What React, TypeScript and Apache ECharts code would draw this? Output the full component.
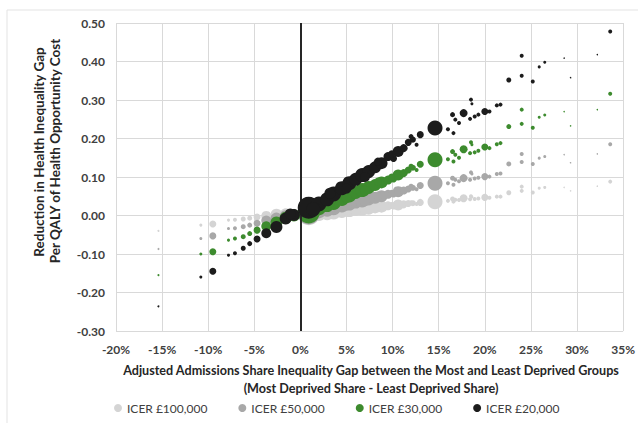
import React, { useEffect, useRef } from "react";
import * as echarts from "echarts";

// Shared share-gap (x, %) and bubble size for each intervention
const shareGap = [
  -15.4, -10.8, -9.5, -7.8, -7.1, -6.2, -5.5, -4.7, -3.7, -2.6, -1.6, -0.7,
  0.9, 2.0, 2.9, 3.6, 4.5, 5.3, 6.0, 6.7, 7.4, 8.1, 8.8, 9.5, 10.1, 10.6,
  11.2, 11.7, 12.2, 13.0, 12.6, 14.6, 16.0, 16.5, 16.6, 16.8, 17.2, 17.7,
  18.4, 18.5, 18.6, 18.9, 19.3, 20.0, 20.5, 21.3, 21.7, 22.6, 24.0, 24.0,
  25.2, 25.9, 26.5, 33.6, 28.6, 29.3, 32.2,
  3.2, 5.0, 7.0, 8.4, 9.9, 12.0, 1.4, -1.1,
];
const bubbleSize = [
  2, 3, 7, 3, 4, 5, 5, 7, 10, 12, 12, 12,
  22, 15, 14, 15, 14, 14, 13, 14, 13, 12, 12, 9, 7, 11,
  8, 7, 6, 7, 4, 15, 4, 5, 4, 4, 4, 8,
  4, 4, 3, 4, 4, 7, 4, 4, 4, 5, 4, 4,
  4, 3, 3, 4, 1.5, 1.5, 1.5,
  11, 10, 10, 8, 7, 5, 14, 11,
];
const icer20k = [
  -0.236, -0.16, -0.145, -0.103, -0.098, -0.085, -0.073, -0.061, -0.046, -0.03, -0.008, 0.001,
  0.02, 0.03, 0.042, 0.056, 0.071, 0.084, 0.094, 0.105, 0.114, 0.125, 0.136, 0.153, 0.148, 0.166,
  0.175, 0.19, 0.197, 0.21, 0.184, 0.227, 0.224, 0.262, 0.214, 0.249, 0.24, 0.266,
  0.251, 0.301, 0.29, 0.257, 0.262, 0.27, 0.27, 0.286, 0.288, 0.352, 0.363, 0.415,
  0.348, 0.386, 0.398, 0.478, 0.409, 0.358, 0.418,
  0.058, 0.07, 0.1, 0.14, 0.16, 0.205, 0.016, 0.004,
];
const icer30k = [
  -0.155, -0.1, -0.094, -0.064, -0.06, -0.055, -0.047, -0.038, -0.028, -0.018, -0.006, 0.0,
  0.008, 0.02, 0.027, 0.034, 0.043, 0.052, 0.06, 0.066, 0.073, 0.079, 0.086, 0.092, 0.095, 0.105,
  0.11, 0.118, 0.124, 0.133, 0.118, 0.145, 0.146, 0.166, 0.14, 0.158, 0.15, 0.172,
  0.162, 0.19, 0.184, 0.164, 0.168, 0.178, 0.175, 0.185, 0.188, 0.231, 0.238, 0.275,
  0.228, 0.255, 0.261, 0.316, 0.27, 0.233, 0.275,
  0.036, 0.045, 0.064, 0.088, 0.1, 0.128, 0.01, 0.002,
];
const icer50k = [
  -0.087, -0.06, -0.053, -0.034, -0.033, -0.029, -0.025, -0.02, -0.013, -0.008, -0.002, 0.001,
  0.005, 0.012, 0.015, 0.02, 0.026, 0.031, 0.035, 0.039, 0.043, 0.046, 0.05, 0.055, 0.056, 0.062,
  0.065, 0.069, 0.072, 0.078, 0.068, 0.084, 0.084, 0.097, 0.08, 0.093, 0.089, 0.097,
  0.093, 0.112, 0.108, 0.096, 0.098, 0.101, 0.101, 0.108, 0.109, 0.134, 0.139, 0.16,
  0.134, 0.149, 0.153, 0.185, 0.158, 0.137, 0.16,
  0.021, 0.026, 0.037, 0.052, 0.058, 0.076, 0.006, 0.002,
];
const icer100k = [
  -0.04, -0.025, -0.022, -0.012, -0.011, -0.009, -0.007, -0.004, -0.001, 0.002, 0.003, 0.002,
  0.003, 0.005, 0.006, 0.009, 0.012, 0.014, 0.016, 0.018, 0.019, 0.021, 0.023, 0.025, 0.025, 0.027,
  0.029, 0.031, 0.032, 0.034, 0.03, 0.036, 0.038, 0.043, 0.036, 0.041, 0.04, 0.045,
  0.042, 0.05, 0.048, 0.043, 0.044, 0.047, 0.046, 0.049, 0.049, 0.059, 0.064, 0.075,
  0.06, 0.071, 0.073, 0.088, 0.073, 0.064, 0.076,
  0.009, 0.011, 0.016, 0.023, 0.026, 0.033, 0.004, 0.002,
];

const seriesNames = ["ICER £100,000", "ICER £50,000", "ICER £30,000", "ICER £20,000"];
const seriesValues = [icer100k, icer50k, icer30k, icer20k];
const seriesColors = ["#d4d4d4", "#a8a8a8", "#3d8b2e", "#1c1c1c"];

const xTitle1 = "Adjusted Admissions Share Inequality Gap between the Most and Least Deprived Groups";
const xTitle2 = "(Most Deprived Share - Least Deprived Share)";
const yTitle1 = "Reduction in Health Inequality Gap";
const yTitle2 = "Per QALY of Health Opportunity Cost";

const FONT = "Lato, 'Open Sans', sans-serif";

export default function App() {
  const ref = useRef<HTMLDivElement>(null);
  useEffect(() => {
    if (!ref.current) return;
    const chart = echarts.init(ref.current, undefined, { renderer: "svg" });
    const series: any[] = seriesNames.map((name, si) => ({
      name,
      type: "scatter",
      symbol: "circle",
      symbolSize: (v: number[]) => v[2],
      itemStyle: { color: seriesColors[si], opacity: 1 },
      data: shareGap.map((x, i) => [x, seriesValues[si][i], bubbleSize[i]]),
      z: 2 + si,
      ...(si === 0
        ? {
            markLine: {
              silent: true,
              symbol: "none",
              label: { show: false },
              lineStyle: { color: "#262626", width: 2, type: "solid" },
              data: [{ xAxis: 0 }],
            },
          }
        : {}),
    }));
    chart.setOption({
      animation: false,
      grid: { left: 116, right: 12, top: 23, bottom: 92, containLabel: false },
      xAxis: {
        type: "value",
        min: -20,
        max: 35,
        interval: 5,
        axisLine: { show: false },
        axisTick: { show: false },
        splitLine: { show: true, lineStyle: { color: "#d9d9d9", width: 1 } },
        axisLabel: {
          formatter: (v: number) => `${Math.round(v)}%`,
          color: "#404040",
          fontFamily: FONT,
          fontWeight: "bold",
          fontSize: 12,
          margin: 12,
        },
      },
      yAxis: {
        type: "value",
        min: -0.3,
        max: 0.5,
        interval: 0.1,
        axisLine: { show: false },
        axisTick: { show: false },
        splitLine: { show: true, lineStyle: { color: "#d9d9d9", width: 1 } },
        axisLabel: {
          formatter: (v: number) => (Math.abs(v) < 1e-9 ? "0.00" : v.toFixed(2)),
          color: "#404040",
          fontFamily: FONT,
          fontWeight: "bold",
          fontSize: 12,
          margin: 11,
        },
      },
      legend: {
        data: seriesNames,
        left: 109,
        top: 397,
        icon: "circle",
        itemWidth: 8,
        itemHeight: 8,
        itemGap: 31,
        textStyle: { color: "#404040", fontFamily: FONT, fontSize: 12 },
      },
      graphic: [
        {
          type: "rect",
          shape: { x: 7, y: 10, width: 640, height: 420 },
          style: { fill: "none", stroke: "#e3e3e3", lineWidth: 1 },
          silent: true,
          z: -10,
        },
        {
          type: "text",
          x: 371,
          y: 370,
          style: {
            text: xTitle1,
            align: "center",
            verticalAlign: "middle",
            fill: "#262626",
            font: `bold 12.6px ${FONT}`,
          },
        },
        {
          type: "text",
          x: 371,
          y: 388,
          style: {
            text: xTitle2,
            align: "center",
            verticalAlign: "middle",
            fill: "#262626",
            font: `bold 12.6px ${FONT}`,
          },
        },
        {
          type: "text",
          x: 39,
          y: 152,
          rotation: Math.PI / 2,
          style: {
            text: yTitle1,
            align: "center",
            verticalAlign: "middle",
            fill: "#262626",
            font: `bold 13.5px ${FONT}`,
          },
        },
        {
          type: "text",
          x: 55,
          y: 151,
          rotation: Math.PI / 2,
          style: {
            text: yTitle2,
            align: "center",
            verticalAlign: "middle",
            fill: "#262626",
            font: `bold 13.5px ${FONT}`,
          },
        },
      ],
      series,
    });
    return () => chart.dispose();
  }, []);
  return (
    <div
      ref={ref}
      style={{ position: "absolute", left: 0, top: 0, width: 638, height: 423, background: "#fff" }}
    />
  );
}
